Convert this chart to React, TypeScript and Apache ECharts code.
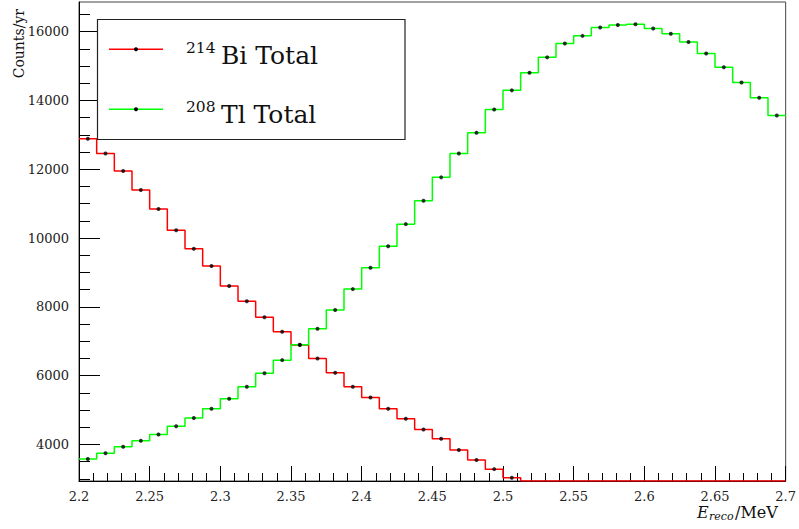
import React, { useEffect, useRef } from "react";
import * as echarts from "echarts";

// ---- data ----
const binLow = 2.2;
const binWidth = 0.0125;
const bi214Counts = [
  12890, 12460, 11950, 11395, 10845, 10225, 9690, 9185, 8605, 8165,
  7700, 7275, 6890, 6495, 6080, 5675, 5365, 5035, 4745, 4435,
  4165, 3835, 3545, 3280, 3030, 0, 0, 0, 0, 0,
  0, 0, 0, 0, 0, 0, 0, 0, 0, 0,
];
const tl208Counts = [
  3575, 3740, 3930, 4105, 4290, 4525, 4765, 5035, 5325, 5675,
  6070, 6450, 6900, 7360, 7905, 8515, 9135, 9760, 10405, 11085,
  11765, 12460, 13060, 13740, 14295, 14805, 15255, 15660, 15880, 16125,
  16195, 16220, 16095, 15940, 15700, 15370, 14965, 14525, 14080, 13565,
];
const yMajorTicks = [4000, 6000, 8000, 10000, 12000, 14000, 16000];
const yMinorTicks = [
  3000, 3500, 4500, 5000, 5500, 6500, 7000, 7500, 8500, 9000, 9500,
  10500, 11000, 11500, 12500, 13000, 13500, 14500, 15000, 15500, 16500,
];
const xMin = 2.2;
const xMax = 2.7;
const xStep = 0.05;
const yMin = 2935;
const yMax = 16865;
const seriesNames = ["Bi Total", "Tl Total"];
const isotopeNumbers = ["214", "208"];
const yTitle = "Counts/yr";

const FONT = "'DejaVu Serif', 'Liberation Serif', serif";
const RED = "#ff0000";
const GREEN = "#00ff00";

function stepData(counts: number[]) {
  const pts = counts.map((v, i) => [binLow + i * binWidth, Math.max(v, yMin)]);
  pts.push([
    binLow + counts.length * binWidth,
    Math.max(counts[counts.length - 1], yMin),
  ]);
  return pts;
}
function dotData(counts: number[]) {
  return counts
    .map((v, i) => [binLow + (i + 0.5) * binWidth, v])
    .filter((p) => p[1] >= yMin);
}

function textEl(
  text: string,
  x: number,
  y: number,
  size: number,
  extra: Record<string, any> = {}
) {
  return {
    type: "text",
    z: 102,
    x,
    y,
    style: {
      text,
      fontFamily: FONT,
      fontSize: size,
      fontStyle: extra.fontStyle || "normal",
      fill: "#111",
      align: extra.align || "left",
      verticalAlign: "middle",
    },
    rotation: extra.rotation || 0,
  };
}

export default function App() {
  const ref = useRef<HTMLDivElement>(null);
  useEffect(() => {
    if (!ref.current) return;
    const chart = echarts.init(ref.current, null, { renderer: "svg" });
    const legendRow = (
      i: number,
      color: string,
      yLine: number,
      ySup: number,
      yText: number
    ) => [
      {
        type: "line",
        z: 101,
        shape: { x1: 109, y1: yLine, x2: 163, y2: yLine },
        style: { stroke: color, lineWidth: 1.5 },
      },
      {
        type: "circle",
        z: 102,
        shape: { cx: 136, cy: yLine, r: 2 },
        style: { fill: "#000" },
      },
      textEl(isotopeNumbers[i], 186, ySup, 15.5),
      textEl(seriesNames[i], 221, yText, 25),
    ];
    chart.setOption({
      animation: false,
      grid: {
        left: 79,
        right: 13,
        top: 2,
        bottom: 48,
        show: true,
        borderColor: "#444",
        borderWidth: 1,
      },
      xAxis: {
        type: "value",
        min: xMin,
        max: xMax,
        interval: xStep,
        axisLine: { lineStyle: { color: "#000", width: 1 } },
        axisTick: { inside: true, length: 15, lineStyle: { color: "#000" } },
        minorTick: {
          show: true,
          splitNumber: 5,
          length: 8,
          lineStyle: { color: "#000" },
        },
        axisLabel: {
          fontFamily: FONT,
          fontSize: 13,
          color: "#222",
          margin: 9,
          formatter: (v: number) => String(+(+v).toFixed(3)),
        },
        splitLine: { show: false },
      },
      yAxis: [
        {
          type: "value",
          min: yMin,
          max: yMax,
          position: "left",
          axisLine: { show: true, lineStyle: { color: "#000", width: 1 } },
          axisTick: {
            show: true,
            inside: true,
            length: 21,
            customValues: yMajorTicks,
            lineStyle: { color: "#000" },
          },
          axisLabel: {
            customValues: yMajorTicks,
            fontFamily: FONT,
            fontSize: 13,
            color: "#222",
            margin: 10,
            formatter: (v: number) => String(Math.round(v)),
          },
          splitLine: { show: false },
        },
        {
          type: "value",
          min: yMin,
          max: yMax,
          position: "left",
          axisLine: { show: false },
          axisTick: {
            show: true,
            inside: true,
            length: 11,
            customValues: yMinorTicks,
            lineStyle: { color: "#000" },
          },
          axisLabel: { show: false },
          splitLine: { show: false },
        },
      ],
      series: [
        {
          type: "line",
          name: "214Bi Total",
          step: "end",
          data: stepData(bi214Counts),
          symbol: "none",
          lineStyle: { color: RED, width: 1.5 },
          z: 2,
        },
        {
          type: "line",
          name: "208Tl Total",
          step: "end",
          data: stepData(tl208Counts),
          symbol: "none",
          lineStyle: { color: GREEN, width: 1.5 },
          z: 3,
        },
        {
          type: "scatter",
          data: dotData(bi214Counts),
          symbol: "circle",
          symbolSize: 4,
          itemStyle: { color: "#000" },
          z: 4,
        },
        {
          type: "scatter",
          data: dotData(tl208Counts),
          symbol: "circle",
          symbolSize: 4,
          itemStyle: { color: "#000" },
          z: 4,
        },
      ],
      graphic: [
        {
          type: "rect",
          z: 100,
          shape: { x: 97.5, y: 19.5, width: 307.5, height: 120 },
          style: { fill: "#fff", stroke: "#222", lineWidth: 1.2 },
        },
        ...legendRow(0, RED, 49.3, 48, 55.5),
        ...legendRow(1, GREEN, 109.3, 107, 114),
        textEl(yTitle, 19, 9, 14, { align: "right", rotation: Math.PI / 2 }),
        textEl("E", 697, 512, 16, { fontStyle: "italic" }),
        textEl("reco", 709, 516, 11, { fontStyle: "italic" }),
        textEl("/MeV", 735, 512, 16),
      ],
    });
    return () => chart.dispose();
  }, []);
  return (
    <div
      ref={ref}
      style={{ position: "absolute", left: 0, top: 0, width: 799, height: 529 }}
    />
  );
}
